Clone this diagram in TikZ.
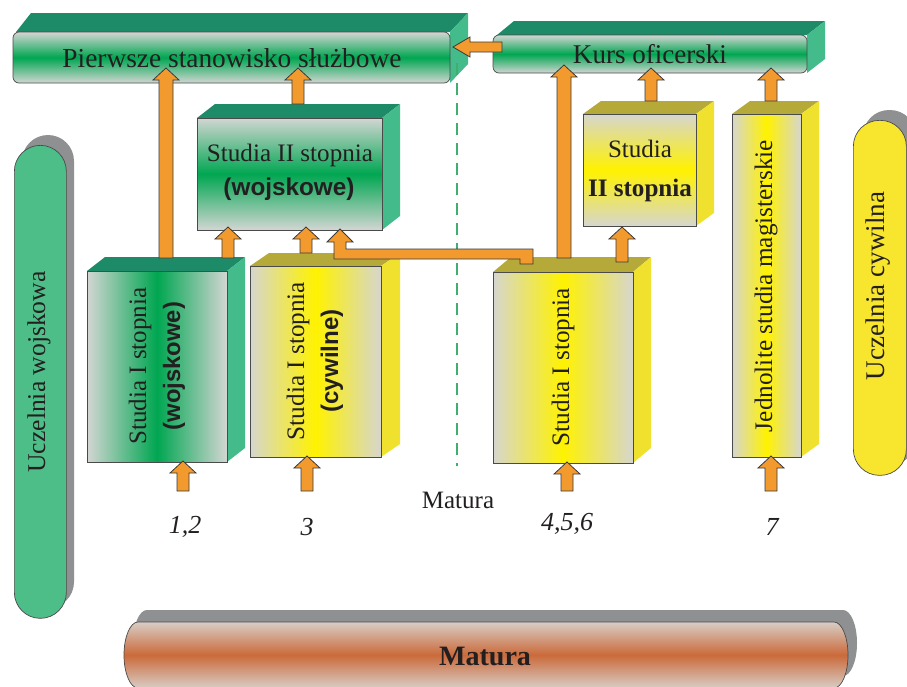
\documentclass[tikz,border=0pt]{standalone}
\usepackage{fontspec}
\setmainfont{Liberation Serif}
\newfontfamily\sansfam{Liberation Sans}
\usepackage{graphicx}
\usetikzlibrary{calc}
\definecolor{arrfill}{HTML}{F39A2E}
\definecolor{arrline}{HTML}{3A3A3A}
\definecolor{edge}{HTML}{4A4A4A}
\definecolor{gtop}{HTML}{1E8B68}
\definecolor{gside}{HTML}{44BB8B}
\definecolor{gmid}{HTML}{00A651}
\definecolor{gedge}{HTML}{D3D6D3}
\definecolor{ytop}{HTML}{B5A93A}
\definecolor{yside}{HTML}{F0E12E}
\definecolor{ymid}{HTML}{FFF200}
\definecolor{yedge}{HTML}{D6D6CF}
\definecolor{pillg}{HTML}{4EBE88}
\definecolor{pilly}{HTML}{F8E52D}
\definecolor{shgrey}{HTML}{8F9091}
\definecolor{oredge}{HTML}{D8CDC6}
\definecolor{ormid}{HTML}{CB6A3A}
\definecolor{dashg}{HTML}{3FAE6E}
\definecolor{txt}{HTML}{231F20}

\newcommand\cuboid[8]{%
  \fill[#7] (#1,#2) -- ({#1+#5},{#2-#6}) -- ({#3+#5},{#2-#6}) -- (#3,#2) -- cycle;
  \fill[#8] (#3,#2) -- ({#3+#5},{#2-#6}) -- ({#3+#5},{#4-#6}) -- (#3,#4) -- cycle;}

\newcommand\UpArr[3][6]{%
  \filldraw[blockarr] let \p1=(#2), \p2=(#3) in
   ({\x1-#1pt},\y1) -- ({\x1-#1pt},{\y2-12pt}) -- ({\x1-13pt},{\y2-12pt}) -- (\x1,\y2)
   -- ({\x1+13pt},{\y2-12pt}) -- ({\x1+#1pt},{\y2-12pt}) -- ({\x1+#1pt},\y1) -- cycle;}

\tikzset{
  blockarr/.style={fill=arrfill, draw=arrline, line width=0.8pt, line join=miter},
  frontface/.style={draw=edge, line width=0.7pt, inner sep=0pt, outer sep=0pt, anchor=north west},
  gvert/.style={frontface, top color=gedge, bottom color=gedge, middle color=gmid},
  ghoriz/.style={frontface, left color=gedge, right color=gedge, middle color=gmid},
  yvert/.style={frontface, top color=yedge, bottom color=yedge, middle color=ymid},
  yhoriz/.style={frontface, left color=yedge, right color=yedge, middle color=ymid},
  pillshape/.style={draw=edge, line width=0.7pt, rounded corners=26pt, anchor=north west, inner sep=0pt},
  numlbl/.style={font=\fontsize{26}{30}\selectfont\itshape},
}

\begin{document}
\begin{tikzpicture}[x=1pt,y=-1pt, every node/.style={text=txt, inner sep=0pt}]
\useasboundingbox (0,0) rectangle (907,686);

% side pills
\fill[shgrey, rounded corners=26pt] (22,135) rectangle (74,608);
\node[pillshape, fill=pillg, minimum width=52pt, minimum height=473pt] (uwpill) at (14,145) {};
\node[rotate=90] (uwtext) at (39,372) {\resizebox{201pt}{!}{Uczelnia wojskowa}};

\fill[shgrey, rounded corners=26pt] (863,110) rectangle (916,465);
\node[pillshape, fill=pilly, minimum width=53pt, minimum height=355pt] (ucpill) at (853,120) {};
\node[rotate=90] (uctext) at (878,286) {\resizebox{188pt}{!}{Uczelnia cywilna}};

% bottom Matura
\fill[shgrey] (147,610) -- (843,610) arc[start angle=-90,end angle=90,x radius=14,y radius=33]
   -- (147,676) arc[start angle=90,end angle=270,x radius=14,y radius=33] -- cycle;
\shadedraw[draw=edge, line width=0.7pt, top color=oredge, bottom color=oredge, middle color=ormid]
   (138,622) -- (834,622) arc[start angle=-90,end angle=90,x radius=14,y radius=33]
   -- (138,688) arc[start angle=90,end angle=270,x radius=14,y radius=33] -- cycle;
\node (maturaB) at (485,656) {\resizebox{92pt}{!}{\bfseries Matura}};

% top bars
\fill[gtop] (16,32) -- (31,13) -- (468,13) -- (450,32) -- cycle;
\fill[gside] (450,32) -- (468,13) -- (468,64) -- (450,83) -- cycle;
\node[gvert, rounded corners=6pt, minimum width=437pt, minimum height=51pt] (pierwsze) at (13,32) {};
\node (pierwszeT) at (232,58) {\resizebox{339pt}{!}{Pierwsze stanowisko służbowe}};

\fill[gtop] (497,35) -- (514,21) -- (825,21) -- (807,35) -- cycle;
\fill[gside] (807,35) -- (825,21) -- (825,59) -- (807,73) -- cycle;
\node[gvert, rounded corners=6pt, minimum width=314pt, minimum height=38pt] (kurs) at (493,35) {};
\node (kursT) at (650,54) {\resizebox{154pt}{!}{Kurs oficerski}};

% boxes
\cuboid{197}{118}{382}{230}{18}{14}{gtop}{gside}
\node[gvert, minimum width=185pt, minimum height=112pt] (s2w) at (197,118) {};
\node (s2wA) at (290,155) {\resizebox{166pt}{!}{Studia II stopnia}};
\node (s2wB) at (289,189) {\resizebox{131pt}{!}{\sansfam\bfseries (wojskowe)}};

\cuboid{87}{271}{227}{462}{18}{14}{gtop}{gside}
\node[ghoriz, minimum width=140pt, minimum height=191pt] (s1w) at (87,271) {};
\node[rotate=90] (s1wA) at (140,366) {\resizebox{157pt}{!}{Studia I stopnia}};
\node[rotate=90] (s1wB) at (174,366) {\resizebox{128pt}{!}{\sansfam\bfseries (wojskowe)}};

\cuboid{250}{266}{381}{457}{19}{13}{ytop}{yside}
\node[yhoriz, minimum width=131pt, minimum height=191pt] (s1c) at (250,266) {};
\node[rotate=90] (s1cA) at (298,361) {\resizebox{158pt}{!}{Studia I stopnia}};
\node[rotate=90] (s1cB) at (332,361) {\resizebox{103pt}{!}{\sansfam\bfseries (cywilne)}};

\cuboid{493}{272}{633}{463}{18}{15}{ytop}{yside}
\node[yhoriz, minimum width=140pt, minimum height=191pt] (s1r) at (493,272) {};
\node[rotate=90] (s1rT) at (563,367) {\resizebox{158pt}{!}{Studia I stopnia}};

\cuboid{583}{114}{696}{226}{18}{13}{ytop}{yside}
\node[yvert, minimum width=113pt, minimum height=112pt] (s2c) at (583,114) {};
\node (s2cA) at (640,149) {\resizebox{64pt}{!}{Studia}};
\node (s2cB) at (640,190) {\resizebox{104pt}{!}{\bfseries II stopnia}};

\cuboid{732}{114}{801}{457}{18}{13}{ytop}{yside}
\node[yhoriz, minimum width=69pt, minimum height=343pt] (jsm) at (732,114) {};
\node[rotate=90] (jsmT) at (766,286) {\resizebox{292pt}{!}{Jednolite studia magisterskie}};

% dashed divider
\coordinate (dtop) at (457,63);
\coordinate (dbot) at (457,466);
\draw[dashg, line width=2.2pt, dash pattern=on 12pt off 8pt] (dtop) -- (dbot);

% labels
\node[numlbl] (n12) at (185,527) {1,2};
\node[numlbl] (n3) at (307,527) {3};
\node[numlbl] (n456) at (567,524) {4,5,6};
\node[numlbl] (n7) at (772,527) {7};
\node[font=\fontsize{25}{30}\selectfont] (maturaL) at (458,500) {Matura};

% arrows
\coordinate (a1s) at (183,491); \coordinate (a1e) at (183,461);
\coordinate (a2s) at (307,491); \coordinate (a2e) at (307,456);
\coordinate (a3s) at (567,491); \coordinate (a3e) at (567,462);
\coordinate (a4s) at (771,491); \coordinate (a4e) at (771,456);
\UpArr{a1s}{a1e}
\UpArr{a2s}{a2e}
\UpArr{a3s}{a3e}
\UpArr{a4s}{a4e}

\coordinate (b1s) at (166,258); \coordinate (b1e) at (166,68);
\coordinate (b2s) at (228,258); \coordinate (b2e) at (228,227);
\coordinate (b3s) at (306,253); \coordinate (b3e) at (306,227);
\coordinate (b4s) at (298,104); \coordinate (b4e) at (298,68);
\coordinate (b5s) at (564,258); \coordinate (b5e) at (564,65);
\coordinate (b6s) at (622,262); \coordinate (b6e) at (622,227);
\coordinate (b7s) at (651,101); \coordinate (b7e) at (651,68);
\coordinate (b8s) at (771,101); \coordinate (b8e) at (771,68);
\UpArr[7]{b1s}{b1e}
\UpArr{b2s}{b2e}
\UpArr{b3s}{b3e}
\UpArr{b4s}{b4e}
\UpArr[7]{b5s}{b5e}
\UpArr{b6s}{b6e}
\UpArr{b7s}{b7e}
\UpArr{b8s}{b8e}

% L-shaped arrow from right Studia I to Studia II (wojskowe)
\filldraw[blockarr] (533,249) -- (346,249) -- (346,242) -- (353,242) -- (340,229) -- (327,242)
  -- (334,242) -- (334,259) -- (520,259) -- (520,264) -- (533,264) -- cycle;

% Kurs oficerski -> Pierwsze stanowisko
\filldraw[blockarr] (502,42) -- (470,42) -- (470,37) -- (453,47) -- (470,57) -- (470,52) -- (502,52) -- cycle;
\end{tikzpicture}
\end{document}
